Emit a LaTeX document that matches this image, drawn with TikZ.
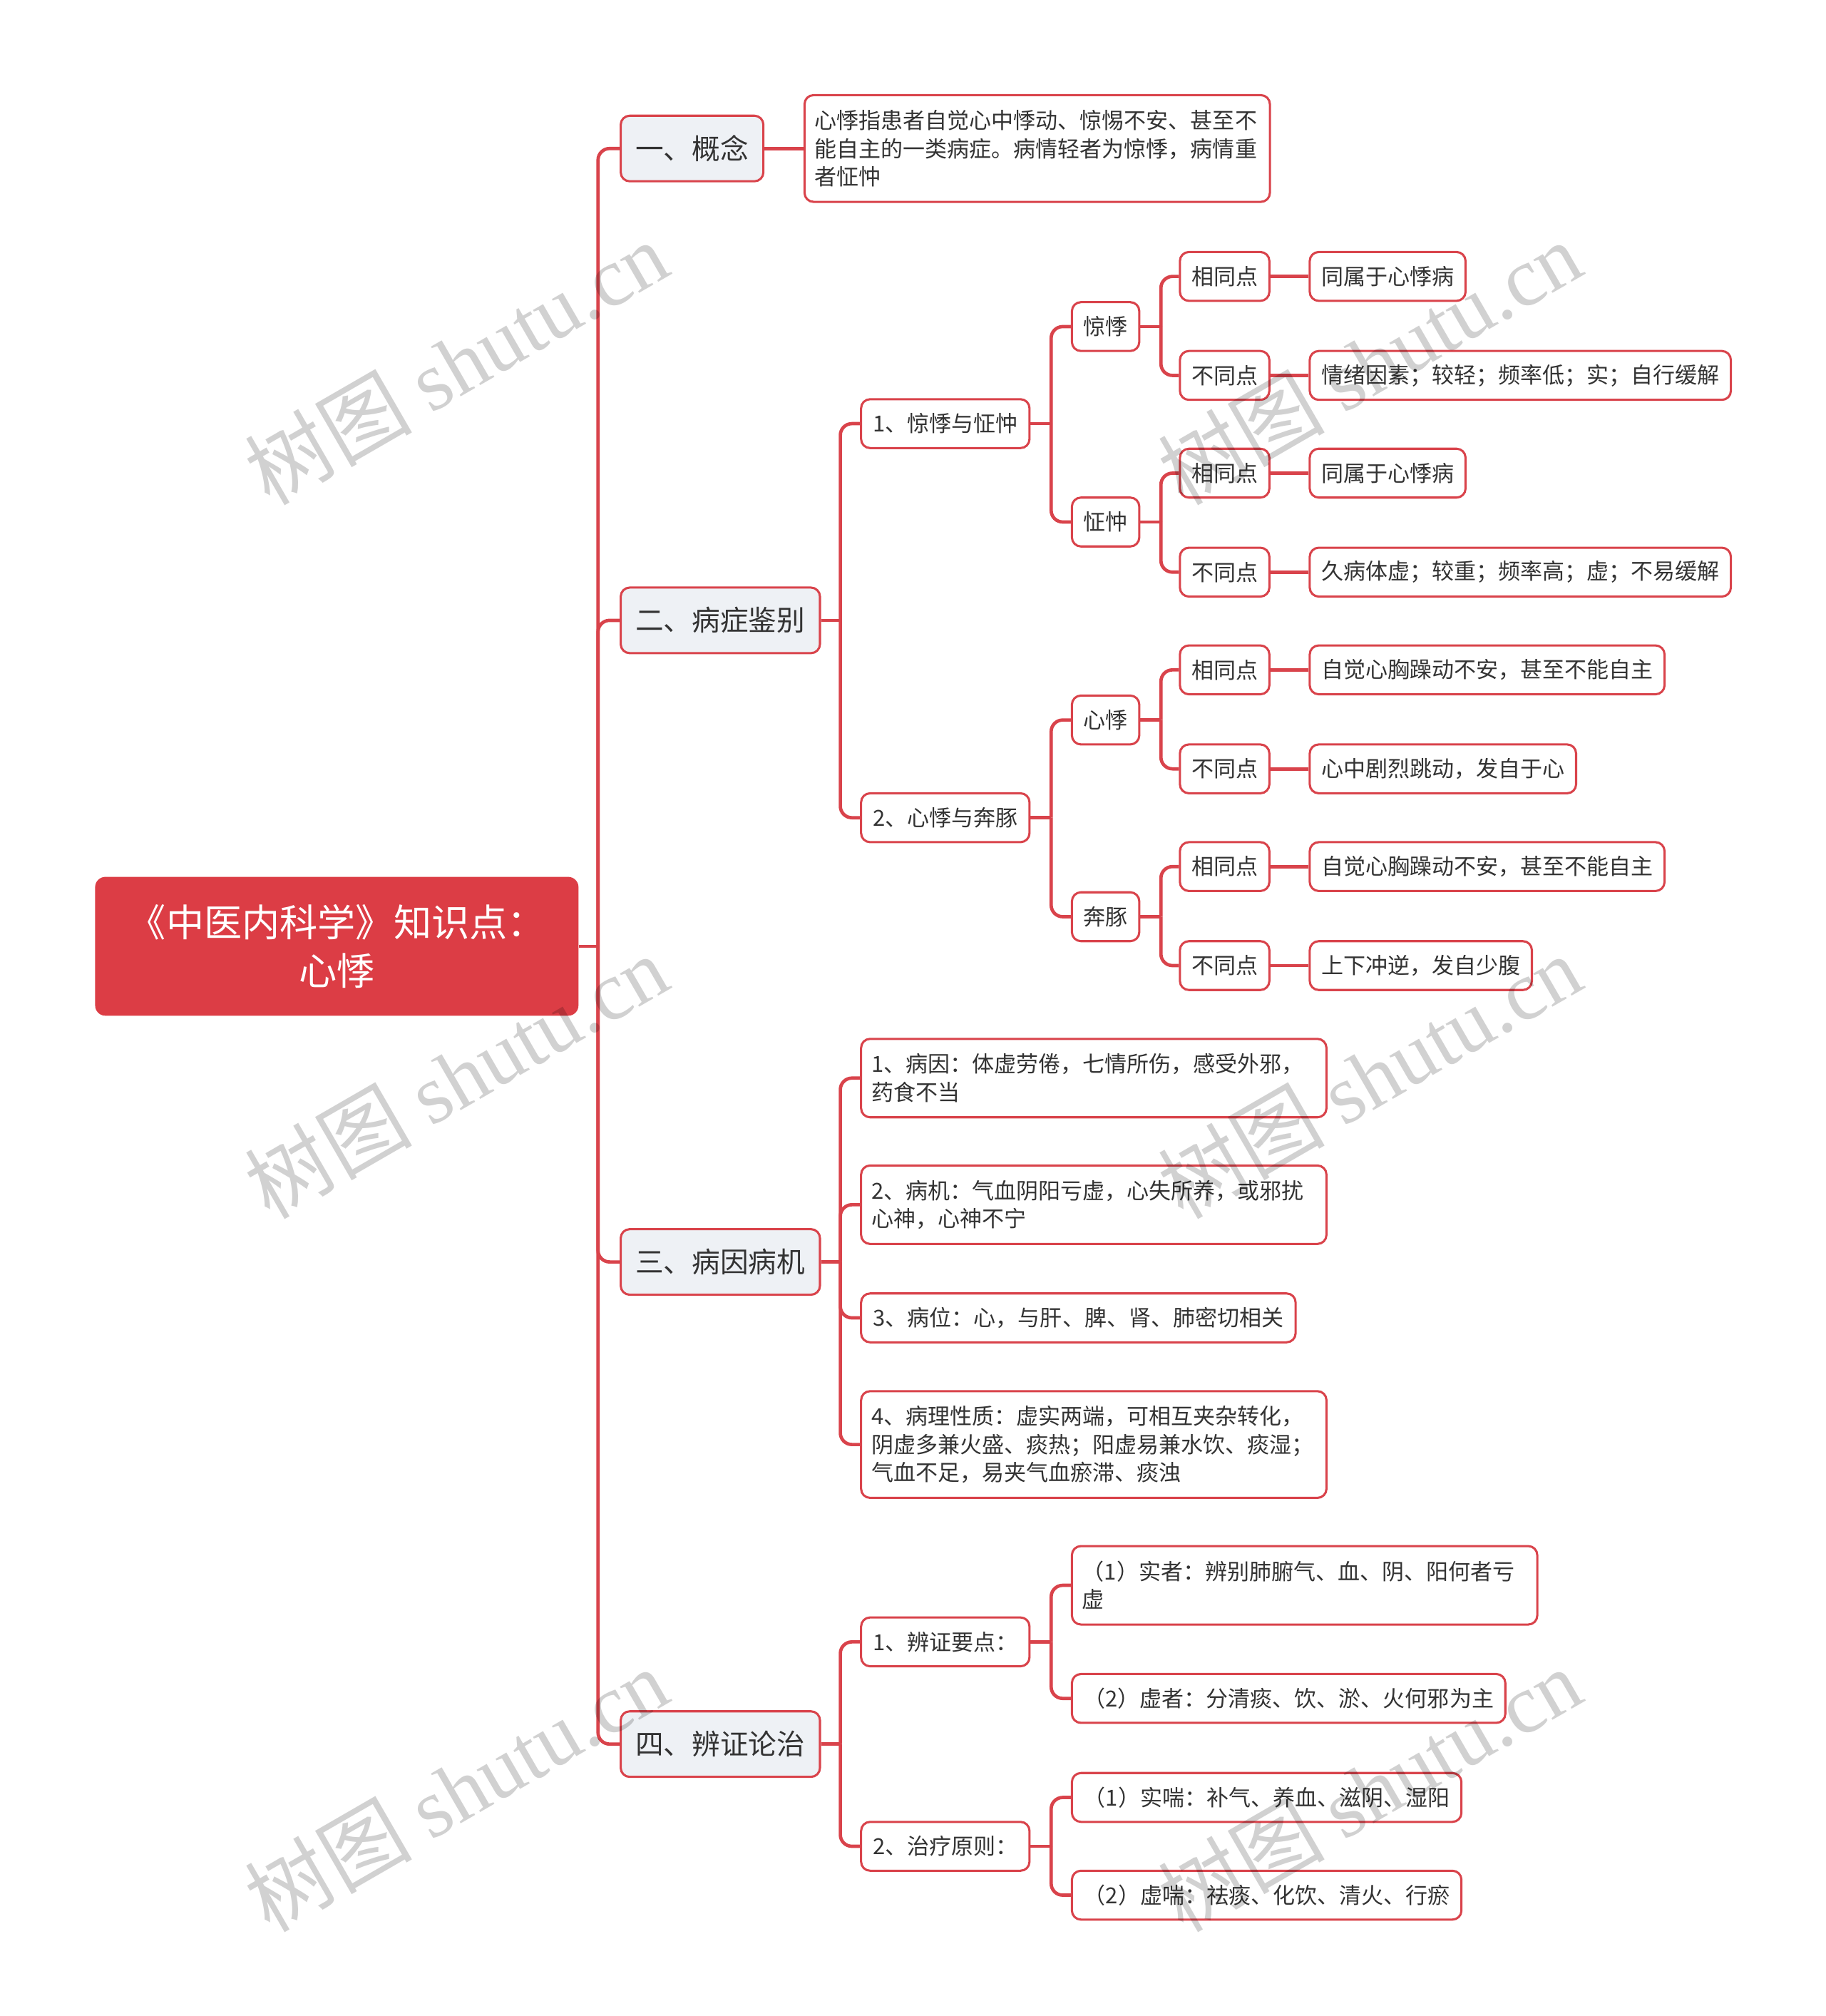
\documentclass[tikz,border=0pt]{standalone}
\usepackage{fontspec}
\setmainfont{Noto Sans CJK SC}
\newfontfamily\wmfont{Liberation Serif}
\usetikzlibrary{calc}
\definecolor{linered}{HTML}{D9434B}
\definecolor{rootred}{HTML}{DC3D45}
\definecolor{lvlone}{HTML}{EEF1F5}
\definecolor{txt}{HTML}{333333}
\begin{document}
\begin{tikzpicture}[x=1pt,y=-1pt,
  box/.style={draw=linered, line width=1.7pt, rounded corners=7pt, fill=white, text=txt,
    inner xsep=9pt, inner ysep=0pt, minimum height=38pt, anchor=west,
    font=\fontsize{17.2}{22}\selectfont},
  lone/.style={box, fill=lvlone, minimum height=51pt, inner xsep=11pt, font=\fontsize{22}{28}\selectfont},
  rootbox/.style={fill=rootred, rounded corners=8pt, text=white, align=center,
    minimum width=376pt, minimum height=108pt, font=\fontsize{29.5}{38}\selectfont},
  para/.style={box, align=left, inner xsep=8pt, text width=346pt},
  conn/.style={draw=linered, line width=2.6pt, rounded corners=9pt},
  wm/.style={text=black, opacity=0.18, rotate=30, font=\fontsize{65}{65}\selectfont}
]
\useasboundingbox (0,0) rectangle (1420,1568);

% root
\node[rootbox] (root) at (262,736) {《中医内科学》知识点：\\心悸};

% level 1
\node[lone, minimum width=111pt] (a1) at (482,115.5) {一、概念};
\node[lone, minimum width=155pt] (a2) at (482,482.5) {二、病症鉴别};
\node[lone, minimum width=155pt] (a3) at (482,981.5) {三、病因病机};
\node[lone, minimum width=155pt] (a4) at (482,1356.5) {四、辨证论治};

% level 2
\node[para, minimum height=83pt] (a1c) at (625,115.5) {心悸指患者自觉心中悸动、惊惕不安、甚至不\\能自主的一类病症。病情轻者为惊悸，病情重\\者怔忡};
\node[box, minimum width=131pt] (b1) at (669,329.5) {1、惊悸与怔忡};
\node[box, minimum width=131pt] (b2) at (669,636) {2、心悸与奔豚};
\node[para, minimum height=61pt] (c1) at (669,838.5) {1、病因：体虚劳倦，七情所伤，感受外邪，\\药食不当};
\node[para, minimum height=61pt] (c2) at (669,937) {2、病机：气血阴阳亏虚，心失所养，或邪扰\\心神，心神不宁};
\node[box, minimum width=338pt] (c3) at (669,1025) {3、病位：心，与肝、脾、肾、肺密切相关};
\node[para, minimum height=83pt] (c4) at (669,1123.5) {4、病理性质：虚实两端，可相互夹杂转化，\\阴虚多兼火盛、痰热；阳虚易兼水饮、痰湿；\\气血不足，易夹气血瘀滞、痰浊};
\node[box, minimum width=131pt] (d1) at (669,1277) {1、辨证要点：};
\node[box, minimum width=131pt] (d2) at (669,1436) {2、治疗原则：};

% level 3
\node[box, minimum width=51pt] (e1) at (833,254) {惊悸};
\node[box, minimum width=51pt] (e2) at (833,406) {怔忡};
\node[box, minimum width=51pt] (e3) at (833,560) {心悸};
\node[box, minimum width=51pt] (e4) at (833,713) {奔豚};
\node[para, minimum height=61pt] (d1a) at (833,1233) {（1）实者：辨别肺腑气、血、阴、阳何者亏\\虚};
\node[box, minimum width=337pt] (d1b) at (833,1321) {（2）虚者：分清痰、饮、淤、火何邪为主};
\node[box, minimum width=303pt] (d2a) at (833,1398) {（1）实喘：补气、养血、滋阴、湿阳};
\node[box, minimum width=303pt] (d2b) at (833,1474) {（2）虚喘：祛痰、化饮、清火、行瘀};

% level 4
\node[box, minimum width=68pt] (f1) at (917,215) {相同点};
\node[box, minimum width=68pt] (g1) at (917,292) {不同点};
\node[box, minimum width=68pt] (f2) at (917,368) {相同点};
\node[box, minimum width=68pt] (g2) at (917,445) {不同点};
\node[box, minimum width=68pt] (f3) at (917,521) {相同点};
\node[box, minimum width=68pt] (g3) at (917,598) {不同点};
\node[box, minimum width=68pt] (f4) at (917,674) {相同点};
\node[box, minimum width=68pt] (g4) at (917,751) {不同点};

% level 5
\node[box] (h1) at (1018,215) {同属于心悸病};
\node[box] (k1) at (1018,292) {情绪因素；较轻；频率低；实；自行缓解};
\node[box] (h2) at (1018,368) {同属于心悸病};
\node[box] (k2) at (1018,445) {久病体虚；较重；频率高；虚；不易缓解};
\node[box] (h3) at (1018,521) {自觉心胸躁动不安，甚至不能自主};
\node[box] (k3) at (1018,598) {心中剧烈跳动，发自于心};
\node[box] (h4) at (1018,674) {自觉心胸躁动不安，甚至不能自主};
\node[box] (k4) at (1018,751) {上下冲逆，发自少腹};

% connectors
\coordinate (t0) at ($(root.east)+(15,0)$);
\draw[conn] (root.east) -- (t0);
\foreach \c in {a1,a2,a3,a4} \draw[conn] (t0) |- (\c.west);

\draw[conn] (a1.east) -- (a1c.west);

\coordinate (t2) at ($(a2.east)+(15,0)$);
\draw[conn] (a2.east) -- (t2);
\foreach \c in {b1,b2} \draw[conn] (t2) |- (\c.west);

\coordinate (t3) at ($(a3.east)+(15,0)$);
\draw[conn] (a3.east) -- (t3);
\foreach \c in {c1,c2,c3,c4} \draw[conn] (t3) |- (\c.west);

\coordinate (t4) at ($(a4.east)+(15,0)$);
\draw[conn] (a4.east) -- (t4);
\foreach \c in {d1,d2} \draw[conn] (t4) |- (\c.west);

\coordinate (tb1) at ($(b1.east)+(16,0)$);
\draw[conn] (b1.east) -- (tb1);
\foreach \c in {e1,e2} \draw[conn] (tb1) |- (\c.west);
\coordinate (tb2) at ($(b2.east)+(16,0)$);
\draw[conn] (b2.east) -- (tb2);
\foreach \c in {e3,e4} \draw[conn] (tb2) |- (\c.west);

\coordinate (td1) at ($(d1.east)+(16,0)$);
\draw[conn] (d1.east) -- (td1);
\foreach \c in {d1a,d1b} \draw[conn] (td1) |- (\c.west);
\coordinate (td2) at ($(d2.east)+(16,0)$);
\draw[conn] (d2.east) -- (td2);
\foreach \c in {d2a,d2b} \draw[conn] (td2) |- (\c.west);

\foreach \i in {1,2,3,4} {
  \coordinate (te\i) at ($(e\i.east)+(16,0)$);
  \draw[conn] (e\i.east) -- (te\i);
  \draw[conn] (te\i) |- (f\i.west);
  \draw[conn] (te\i) |- (g\i.west);
  \draw[conn] (f\i.east) -- (h\i.west);
  \draw[conn] (g\i.east) -- (k\i.west);
}

% watermarks
\foreach \dx/\dy [count=\n] in {0/0,710/0,0/555,710/555,0/1110,710/1110} {
  \node[wm] (wm\n) at (355+\dx,282+\dy) {树图 {\wmfont shutu.cn}};
}
\end{tikzpicture}
\end{document}
